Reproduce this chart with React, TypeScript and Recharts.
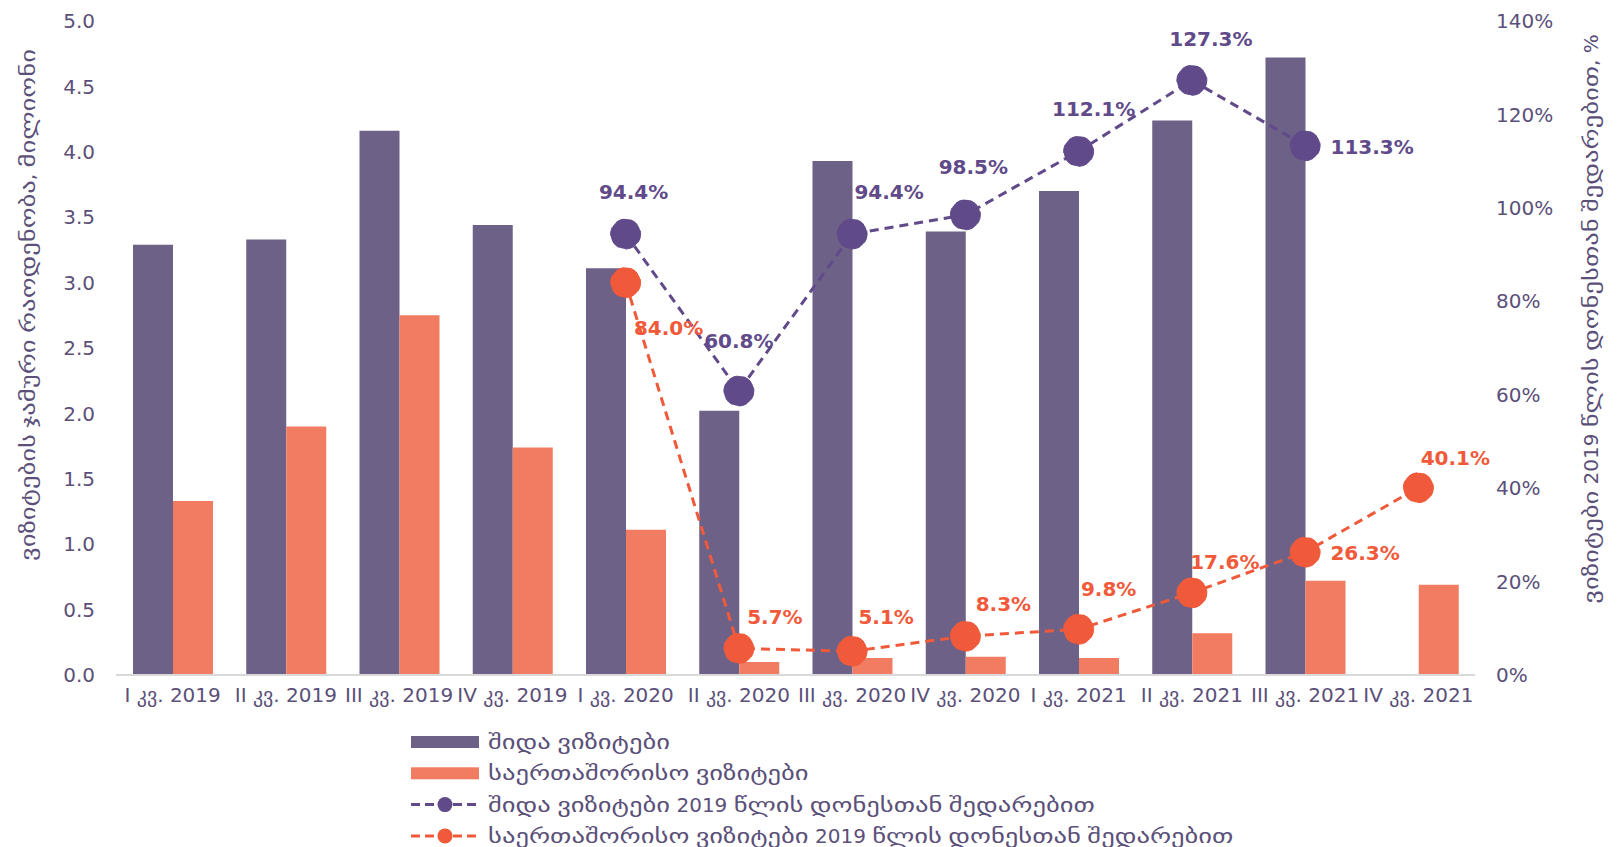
import React from 'react';
import {
  Bar,
  ComposedChart,
  LabelList,
  Line,
  XAxis,
  YAxis,
} from 'recharts';

const quarters = [
  'I კვ. 2019', 'II კვ. 2019', 'III კვ. 2019', 'IV კვ. 2019',
  'I კვ. 2020', 'II კვ. 2020', 'III კვ. 2020', 'IV კვ. 2020',
  'I კვ. 2021', 'II კვ. 2021', 'III კვ. 2021', 'IV კვ. 2021',
];

// millions of visits
const domesticVisits = [3.29, 3.33, 4.16, 3.44, 3.11, 2.02, 3.93, 3.39, 3.70, 4.24, 4.72, null];
const internationalVisits = [1.33, 1.90, 2.75, 1.74, 1.11, 0.10, 0.13, 0.14, 0.13, 0.32, 0.72, 0.69];

// percent of the 2019 level
const domesticPct = [null, null, null, null, 94.4, 60.8, 94.4, 98.5, 112.1, 127.3, 113.3, null];
const internationalPct = [null, null, null, null, 84.0, 5.7, 5.1, 8.3, 9.8, 17.6, 26.3, 40.1];

const leftTicks = [0, 0.5, 1, 1.5, 2, 2.5, 3, 3.5, 4, 4.5, 5];
const rightTicks = [0, 20, 40, 60, 80, 100, 120, 140];

const seriesNames = [
  'შიდა ვიზიტები',
  'საერთაშორისო ვიზიტები',
  'შიდა ვიზიტები 2019 წლის დონესთან შედარებით',
  'საერთაშორისო ვიზიტები 2019 წლის დონესთან შედარებით',
];
const leftTitle = 'ვიზიტების ჯამური რაოდენობა, მილიონი';
const rightTitle = 'ვიზიტები 2019 წლის დონესთან შედარებით, %';

// label placement relative to each dot (dx, dy of text centre)
const domesticLabelOffsets: [number, number][] = [
  [0, 0], [0, 0], [0, 0], [0, 0],
  [8, -42], [0, -50], [37, -42], [8, -48], [15, -42], [19, -41], [67, 1], [0, 0],
];
const internationalLabelOffsets: [number, number][] = [
  [0, 0], [0, 0], [0, 0], [0, 0],
  [43, 45], [36, -31], [34, -34], [38, -32], [30, -40], [33, -31], [60, 1], [37, -30],
];

const data = quarters.map((q, i) => ({
  quarter: q,
  domestic: domesticVisits[i],
  international: internationalVisits[i],
  domesticPct: domesticPct[i],
  internationalPct: internationalPct[i],
}));

const FONT = "'DejaVu Sans', sans-serif";
const TEXT = '#5B5079';
const PURPLE_BAR = '#6E6187';
const ORANGE_BAR = '#F27C61';
const PURPLE_LINE = '#614A8A';
const ORANGE_LINE = '#F05A3A';
// the Georgian letters in the original are set wider than DejaVu's
const GEO_STRETCH = 1.33;

let measureCtx: CanvasRenderingContext2D | null = null;
const measure = (s: string, size: number) => {
  if (!measureCtx) measureCtx = document.createElement('canvas').getContext('2d');
  if (!measureCtx) return s.length * size * 0.6;
  measureCtx.font = `${size}px 'DejaVu Sans'`;
  return measureCtx.measureText(s).width;
};

// text where Georgian runs are widened, Latin/digit runs left as is
const GeoText = ({ x, y, text, size = 20, fill = TEXT, anchor = 'start' }: any) => {
  const runs = text.match(/[\u10A0-\u10FF]+|[^\u10A0-\u10FF]+/g) || [];
  const pieces = runs.map((r: string) => {
    const w = measure(r, size);
    const geo = /[\u10A0-\u10FF]/.test(r);
    return { r, w, geo, target: geo ? w * GEO_STRETCH : w };
  });
  const total = pieces.reduce((a: number, p: any) => a + p.target, 0);
  let cx = anchor === 'middle' ? x - total / 2 : x;
  return (
    <g>
      {pieces.map((p: any, i: number) => {
        const el = (
          <text
            key={i}
            x={cx}
            y={y}
            fill={fill}
            fontFamily={FONT}
            fontSize={size}
            dominantBaseline="central"
            style={{ whiteSpace: 'pre' }}
            {...(p.geo ? { textLength: p.target, lengthAdjust: 'spacingAndGlyphs' } : {})}
          >
            {p.r}
          </text>
        );
        cx += p.target;
        return el;
      })}
    </g>
  );
};

const makeLabel = (offsets: [number, number][], color: string) => (props: any) => {
  const { x, y, value, index } = props;
  if (value == null) return null;
  const [dx, dy] = offsets[index] || [0, 0];
  return (
    <text
      x={x + dx}
      y={y + dy}
      textAnchor="middle"
      dominantBaseline="central"
      fill={color}
      fontFamily={FONT}
      fontWeight="bold"
      fontSize={20}
    >
      {value.toFixed(1)}%
    </text>
  );
};

const LegendRows = () => (
  <g>
    {seriesNames.map((name, i) => {
      const cy = 742 + i * 31.3;
      const color = i === 0 || i === 2 ? PURPLE_LINE : ORANGE_LINE;
      return (
        <g key={name}>
          {i < 2 ? (
            <rect x={411} y={cy - 6} width={68} height={12} fill={i === 0 ? PURPLE_BAR : ORANGE_BAR} />
          ) : (
            <>
              <line
                x1={411}
                x2={479}
                y1={cy}
                y2={cy}
                stroke={color}
                strokeWidth={3}
                strokeDasharray="9 5"
              />
              <circle cx={445} cy={cy} r={7.5} fill={color} />
            </>
          )}
          <GeoText x={488} y={cy} text={name} />
        </g>
      );
    })}
  </g>
);

export default function App() {
  const tickStyle = { fill: TEXT, fontSize: 20, fontFamily: FONT };
  return (
    <div style={{ position: 'absolute', left: 0, top: 0, width: 1620, height: 847, background: '#fff' }}>
      <ComposedChart
        width={1620}
        height={847}
        data={data}
        margin={{ top: 21, right: 65, left: 36, bottom: 132 }}
        barGap={0}
      >
        <XAxis
          dataKey="quarter"
          interval={0}
          tickLine={false}
          axisLine={{ stroke: '#D9D9D9', strokeWidth: 2 }}
          tick={tickStyle}
          tickMargin={7}
          height={40}
        />
        <YAxis
          yAxisId="left"
          domain={[0, 5]}
          ticks={leftTicks}
          tickFormatter={(v: number) => v.toFixed(1)}
          axisLine={false}
          tickLine={false}
          tick={tickStyle}
          tickMargin={15}
          width={80}
        />
        <YAxis
          yAxisId="right"
          orientation="right"
          domain={[0, 140]}
          ticks={rightTicks}
          tickFormatter={(v: number) => `${v}%`}
          axisLine={false}
          tickLine={false}
          tick={tickStyle}
          tickMargin={15}
          width={80}
        />
        <Bar yAxisId="left" dataKey="domestic" fill={PURPLE_BAR} barSize={40} isAnimationActive={false} />
        <Bar yAxisId="left" dataKey="international" fill={ORANGE_BAR} barSize={40} isAnimationActive={false} />
        <Line
          yAxisId="right"
          dataKey="domesticPct"
          stroke={PURPLE_LINE}
          strokeWidth={3}
          strokeDasharray="9 6"
          dot={{ r: 15, fill: PURPLE_LINE, stroke: PURPLE_LINE, strokeWidth: 1 }}
          activeDot={false}
          isAnimationActive={false}
        >
          <LabelList dataKey="domesticPct" content={makeLabel(domesticLabelOffsets, PURPLE_LINE)} />
        </Line>
        <Line
          yAxisId="right"
          dataKey="internationalPct"
          stroke={ORANGE_LINE}
          strokeWidth={3}
          strokeDasharray="9 6"
          dot={{ r: 15, fill: ORANGE_LINE, stroke: ORANGE_LINE, strokeWidth: 1 }}
          activeDot={false}
          isAnimationActive={false}
        >
          <LabelList dataKey="internationalPct" content={makeLabel(internationalLabelOffsets, ORANGE_LINE)} />
        </Line>
        <g transform="translate(28, 305) rotate(-90)">
          <GeoText x={0} y={0} text={leftTitle} anchor="middle" />
        </g>
        <g transform="translate(1591, 319) rotate(-90)">
          <GeoText x={0} y={0} text={rightTitle} anchor="middle" />
        </g>
        <LegendRows />
      </ComposedChart>
    </div>
  );
}
